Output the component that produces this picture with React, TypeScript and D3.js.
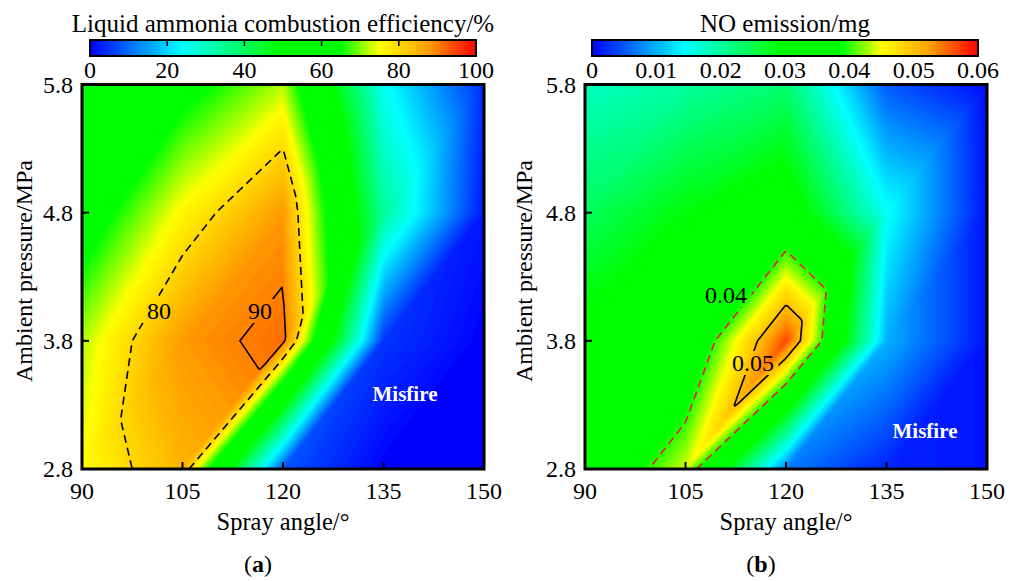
import React, { useMemo } from "react";
import * as d3 from "d3";

// ---------- data ----------
const angles = [90, 105, 120, 135, 150]; // spray angle (deg)
const pressures = [2.8, 3.8, 4.8, 5.8]; // ambient pressure (MPa)

// rows follow `pressures` (2.8 -> 5.8), columns follow `angles`
const efficiency = [
  [75, 85, 8, 0, 0],
  [72, 88, 91.5, 5, 0],
  [60, 76, 88, 34, 2],
  [58, 62, 72, 25, 4],
];
const noEmission = [
  [0.033, 0.044, 0.007, 0.002, 0.001],
  [0.031, 0.033, 0.0567, 0.01, 0.001],
  [0.024, 0.029, 0.033, 0.015, 0.001],
  [0.018, 0.02, 0.023, 0.005, 0.0005],
];

const angleTicks = [90, 105, 120, 135, 150];
const pressureTicks = [2.8, 3.8, 4.8, 5.8];
const effTicks = [0, 20, 40, 60, 80, 100];
const noTicks = [0, 0.01, 0.02, 0.03, 0.04, 0.05, 0.06];

const paletteStops = [0, 0.24, 0.49, 0.65, 0.75, 0.875, 1];
const paletteColors = ["#0000ff", "#00ffff", "#00ff00", "#00ff00", "#ffff00", "#ffa000", "#ff0000"];

const FONT = '"Liberation Serif","Times New Roman",Times,serif';

function interp(grid: number[][], a: number, p: number) {
  const n = angles.length, m = pressures.length;
  const i = Math.min(Math.max(d3.bisectRight(angles, a) - 1, 0), n - 2);
  const j = Math.min(Math.max(d3.bisectRight(pressures, p) - 1, 0), m - 2);
  const u = (a - angles[i]) / (angles[i + 1] - angles[i]);
  const v = (p - pressures[j]) / (pressures[j + 1] - pressures[j]);
  const v00 = grid[j][i], v10 = grid[j][i + 1], v01 = grid[j + 1][i], v11 = grid[j + 1][i + 1];
  if (u >= v) return v00 + u * (v10 - v00) + v * (v11 - v10);
  return v00 + v * (v01 - v00) + u * (v11 - v01);
}

type LineSpec = { level: number; color: string; dash?: string };
type LabelSpec = { text: string; x: number; y: number; w: number };

type PanelProps = {
  id: string;
  x0: number; x1: number; y0: number; y1: number;
  grid: number[][];
  max: number;
  cbX0: number; cbX1: number;
  cbTitle: string;
  cbTicks: number[];
  cbFmt: (v: number) => string;
  cbInnerTicks: boolean;
  lines: LineSpec[];
  labels: LabelSpec[];
  misfire: [number, number];
  letter: string;
  letterX: number;
  yTitleX: number;
};

function Panel(props: PanelProps) {
  const { id, x0, x1, y0, y1, grid, max } = props;
  const aMin = angles[0], aMax = angles[angles.length - 1];
  const pMin = pressures[0], pMax = pressures[pressures.length - 1];
  const xs = d3.scaleLinear().domain([aMin, aMax]).range([x0, x1]);
  const ys = d3.scaleLinear().domain([pMin, pMax]).range([y1, y0]);
  const color = d3.scaleLinear<string>().domain(paletteStops.map((s) => s * max)).range(paletteColors).clamp(true);

  const nx = 202, ny = 193;
  const built = useMemo(() => {
    const values = new Array(nx * ny);
    for (let j = 0; j < ny; j++) {
      const p = pMax - (j * (pMax - pMin)) / (ny - 1);
      for (let i = 0; i < nx; i++) {
        const a = aMin + (i * (aMax - aMin)) / (nx - 1);
        values[j * nx + i] = interp(grid, a, p);
      }
    }
    const proj = d3.geoTransform({
      point(x: number, y: number) {
        const a = aMin + ((x - 0.5) * (aMax - aMin)) / (nx - 1);
        const p = pMax - ((y - 0.5) * (pMax - pMin)) / (ny - 1);
        (this as any).stream.point(xs(a), ys(p));
      },
    });
    const path = d3.geoPath(proj);
    const N = 160;
    const thr = d3.range(1, N).map((k) => (k * max) / N);
    const bands = d3.contours().size([nx, ny]).thresholds(thr)(values).map((c) => ({
      d: path(c as any) || "",
      fill: color(c.value + max / N / 2),
    }));
    const lines = props.lines.map((l) => {
      const c = d3.contours().size([nx, ny]).thresholds([l.level])(values)[0];
      return { ...l, d: path(c as any) || "" };
    });
    return { bands, lines };
  }, [grid, max]);

  const cbScale = d3.scaleLinear().domain([0, max]).range([props.cbX0, props.cbX1]);
  const cbY0 = 40, cbY1 = 56;
  const cx = (x0 + x1) / 2;
  const cy = 271;

  return (
    <g fontFamily={FONT} fill="#000">
      <defs>
        <clipPath id={`clip-${id}`}>
          <rect x={x0} y={y0} width={x1 - x0} height={y1 - y0} />
        </clipPath>
        <mask id={`mask-${id}`}>
          <rect x={x0 - 5} y={y0 - 5} width={x1 - x0 + 10} height={y1 - y0 + 10} fill="#fff" />
          {props.labels.map((l, k) => (
            <rect key={k} x={l.x - l.w / 2 - 4} y={l.y - 20} width={l.w + 8} height={24} fill="#000" />
          ))}
        </mask>
        <linearGradient id={`grad-${id}`} x1="0" x2="1" y1="0" y2="0">
          {paletteStops.map((s, k) => (
            <stop key={k} offset={s} stopColor={paletteColors[k]} />
          ))}
        </linearGradient>
      </defs>

      {/* colour bar */}
      <text x={(props.cbX0 + props.cbX1) / 2} y={32} fontSize={25} textAnchor="middle">
        {props.cbTitle}
      </text>
      <rect x={props.cbX0} y={cbY0} width={props.cbX1 - props.cbX0} height={cbY1 - cbY0} fill={`url(#grad-${id})`} stroke="#000" strokeWidth={2} />
      {props.cbInnerTicks &&
        props.cbTicks.slice(1, -1).map((t, k) => (
          <line key={k} x1={cbScale(t)} x2={cbScale(t)} y1={cbY0} y2={cbY0 + 6} stroke="#000" strokeWidth={1.5} />
        ))}
      {props.cbTicks.map((t, k) => (
        <text key={k} x={cbScale(t)} y={78} fontSize={24} textAnchor="middle">
          {props.cbFmt(t)}
        </text>
      ))}

      {/* heat map */}
      <g clipPath={`url(#clip-${id})`}>
        <rect x={x0} y={y0} width={x1 - x0} height={y1 - y0} fill={color(0)} />
        {built.bands.map((b, k) => (
          <path key={k} d={b.d} fill={b.fill} stroke="none" />
        ))}
        <g mask={`url(#mask-${id})`}>
          {built.lines.map((l, k) => (
            <path key={k} d={l.d} fill="none" stroke={l.color} strokeWidth={1.6} strokeDasharray={l.dash} strokeLinejoin="round" />
          ))}
        </g>
      </g>
      {props.labels.map((l, k) => (
        <text key={k} x={l.x} y={l.y} fontSize={24} textAnchor="middle">
          {l.text}
        </text>
      ))}
      <text x={props.misfire[0]} y={props.misfire[1]} fontSize={21} fontWeight="bold" fill="#fff" textAnchor="middle">
        Misfire
      </text>

      {/* axes */}
      {angleTicks.map((t, k) => (
        <g key={k}>
          <line x1={xs(t)} x2={xs(t)} y1={y1} y2={y1 - 7} stroke="#000" strokeWidth={2} />
          <text x={xs(t)} y={499} fontSize={24} textAnchor="middle">
            {t}
          </text>
        </g>
      ))}
      {pressureTicks.map((t, k) => (
        <g key={k}>
          <line x1={x0} x2={x0 + 7} y1={ys(t)} y2={ys(t)} stroke="#000" strokeWidth={2} />
          <text x={x0 - 9} y={ys(t) + 8} fontSize={24} textAnchor="end">
            {t.toFixed(1)}
          </text>
        </g>
      ))}
      <rect x={x0} y={y0} width={x1 - x0} height={y1 - y0} fill="none" stroke="#000" strokeWidth={3} />
      <text x={cx} y={530} fontSize={24.5} textAnchor="middle">
        Spray angle/°
      </text>
      <text transform={`translate(${props.yTitleX},${cy}) rotate(-90)`} fontSize={24} textAnchor="middle">
        Ambient pressure/MPa
      </text>
      <text x={props.letterX} y={572} fontSize={24} textAnchor="middle">
        (<tspan fontWeight="bold">{props.letter}</tspan>)
      </text>
    </g>
  );
}

export default function App() {
  return (
    <svg width={1019} height={581} style={{ display: "block", position: "absolute", left: 0, top: 0, background: "#fff" }}>
      <rect width={1019} height={581} fill="#fff" />
      <Panel
        id="a"
        x0={82} x1={484} y0={84.5} y1={469}
        grid={efficiency}
        max={100}
        cbX0={90} cbX1={476}
        cbTitle="Liquid ammonia combustion efficiency/%"
        cbTicks={effTicks}
        cbFmt={(v) => String(v)}
        cbInnerTicks={true}
        lines={[
          { level: 80, color: "#000", dash: "8,5" },
          { level: 90, color: "#000" },
        ]}
        labels={[
          { text: "80", x: 159, y: 319, w: 26 },
          { text: "90", x: 260, y: 319, w: 26 },
        ]}
        misfire={[405, 401]}
        letter="a"
        letterX={258}
        yTitleX={32}
      />
      <Panel
        id="b"
        x0={585} x1={987} y0={84.5} y1={469}
        grid={noEmission}
        max={0.06}
        cbX0={592} cbX1={978}
        cbTitle="NO emission/mg"
        cbTicks={noTicks}
        cbFmt={(v) => (v === 0 ? "0" : v.toFixed(2))}
        cbInnerTicks={false}
        lines={[
          { level: 0.04, color: "#e0203a", dash: "8,5" },
          { level: 0.05, color: "#000" },
        ]}
        labels={[
          { text: "0.04", x: 726, y: 303, w: 43 },
          { text: "0.05", x: 753, y: 371, w: 43 },
        ]}
        misfire={[925, 438]}
        letter="b"
        letterX={761}
        yTitleX={532}
      />
    </svg>
  );
}
